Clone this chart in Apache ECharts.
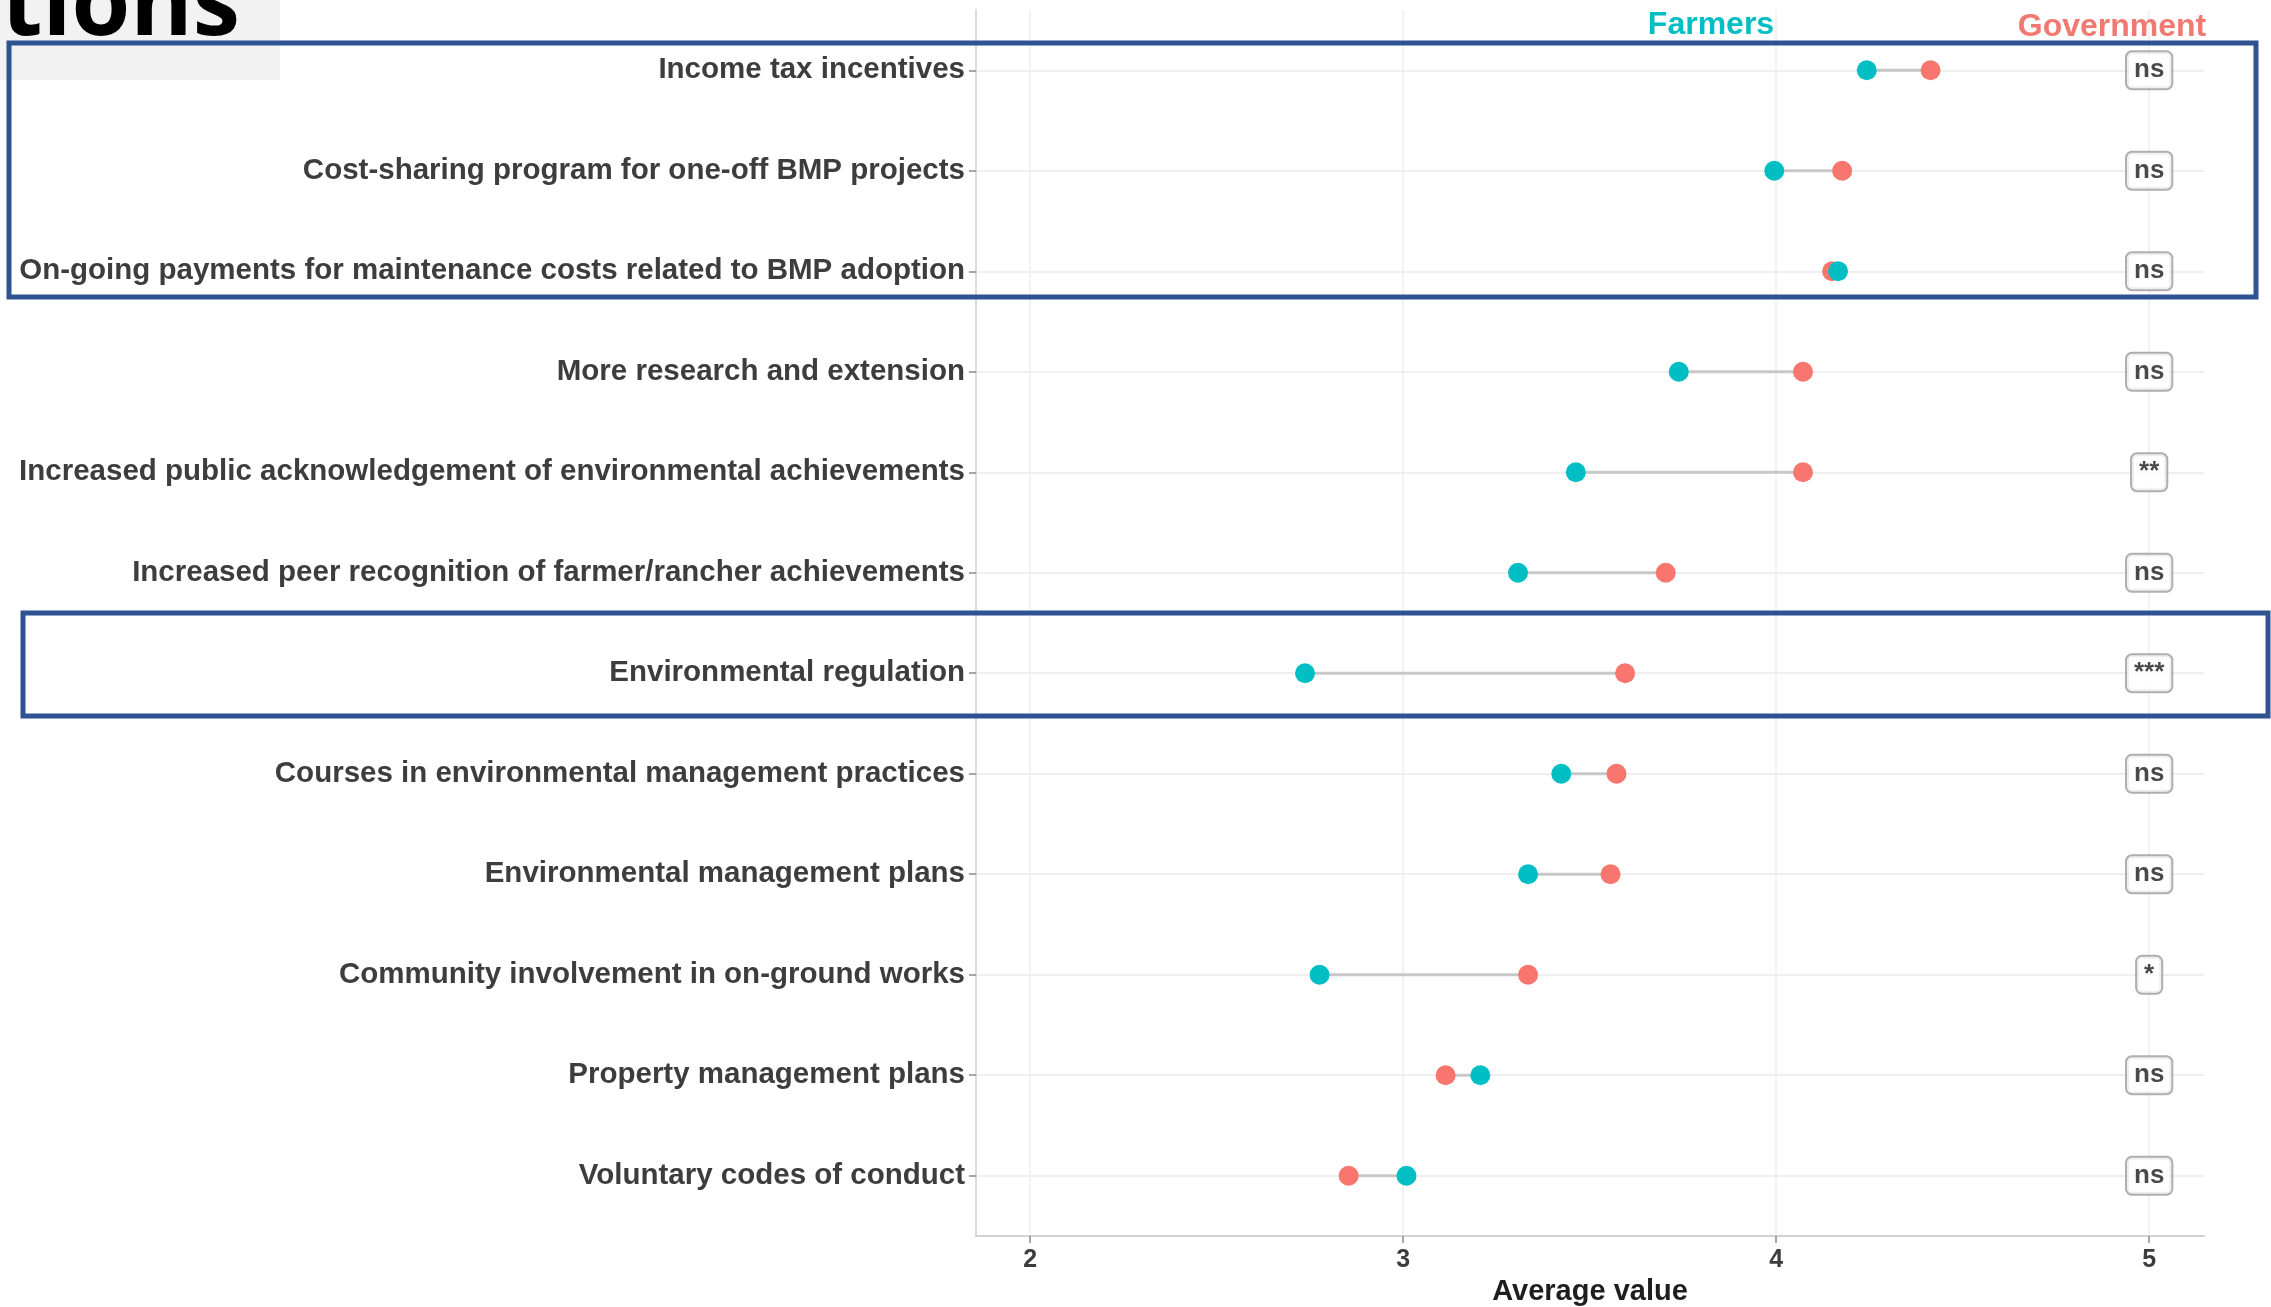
<!DOCTYPE html>
<html>
<head>
<meta charset="utf-8">
<script src="https://cdn.jsdelivr.net/npm/echarts@6/dist/echarts.min.js"></script>
<style>
html,body{margin:0;padding:0;background:#fff;}
#chart{width:2271px;height:1307px;}
</style>
</head>
<body>
<div id="chart"></div>
<script>
const categories = [
  'Income tax incentives',
  'Cost-sharing program for one-off BMP projects',
  'On-going payments for maintenance costs related to BMP adoption',
  'More research and extension',
  'Increased public acknowledgement of environmental achievements',
  'Increased peer recognition of farmer/rancher achievements',
  'Environmental regulation',
  'Courses in environmental management practices',
  'Environmental management plans',
  'Community involvement in on-ground works',
  'Property management plans',
  'Voluntary codes of conduct'
];
const farmers    = [4.243, 3.995, 4.166, 3.739, 3.463, 3.308, 2.737, 3.424, 3.335, 2.776, 3.207, 3.009];
const government = [4.414, 4.177, 4.150, 4.072, 4.072, 3.704, 3.595, 3.572, 3.556, 3.335, 3.114, 2.854];
const significance = ['ns', 'ns', 'ns', 'ns', '**', 'ns', '***', 'ns', 'ns', '*', 'ns', 'ns'];
const sigPosition = 5;
const xTicks = [2, 3, 4, 5];
const rowIndex = categories.map((c, i) => i + 1);

const chart = echarts.init(document.getElementById('chart'));
const FONT = 'Liberation Sans';
const TEXT = '#3d3d3d';

const option = {
  animation: false,
  backgroundColor: '#ffffff',
  grid: { left: 976, right: 67, top: 10, bottom: 71, containLabel: false, outerBoundsMode: 'none' },
  xAxis: {
    type: 'value',
    min: 1.855,
    max: 5.147,
    name: 'Average value',
    nameLocation: 'middle',
    nameGap: 38,
    nameTextStyle: { fontFamily: FONT, fontWeight: 'bold', fontSize: 29, color: '#1e1e1e' },
    axisLine: { show: true, lineStyle: { color: '#d2d2d2', width: 2 } },
    axisTick: { show: true, customValues: xTicks, length: 7, lineStyle: { color: '#8a8a8a', width: 1.5 } },
    axisLabel: { customValues: xTicks, fontFamily: FONT, fontWeight: 'bold', fontSize: 25, color: TEXT, margin: 12 },
    splitLine: { show: true, lineStyle: { color: '#eeeeee', width: 1.5 } }
  },
  yAxis: {
    type: 'value',
    inverse: true,
    min: 0.4,
    max: 12.6,
    axisLine: { show: true, lineStyle: { color: '#dcdcdc', width: 2 } },
    axisTick: { show: true, customValues: rowIndex, length: 7, lineStyle: { color: '#8a8a8a', width: 1.5 } },
    axisLabel: {
      customValues: rowIndex,
      formatter: v => categories[Math.round(v) - 1] || '',
      fontFamily: FONT, fontWeight: 'bold', fontSize: 29.5, color: TEXT, margin: 11
    },
    splitLine: { show: true, lineStyle: { color: '#efefef', width: 2 } }
  },
  series: [
    {
      type: 'custom',
      silent: true,
      encode: { x: [0, 1], y: 2 },
      data: categories.map((c, i) => [farmers[i], government[i], i + 1]),
      renderItem: function (params, api) {
        const p1 = api.coord([api.value(0), api.value(2)]);
        const p2 = api.coord([api.value(1), api.value(2)]);
        return {
          type: 'line',
          shape: { x1: p1[0], y1: p1[1], x2: p2[0], y2: p2[1] },
          style: { stroke: '#c8c8c8', lineWidth: 3 }
        };
      },
      z: 2
    },
    {
      name: 'Government',
      type: 'scatter',
      silent: true,
      symbolSize: 20,
      itemStyle: { color: '#F8766D', opacity: 1 },
      data: government.map((v, i) => [v, i + 1]),
      z: 3
    },
    {
      name: 'Farmers',
      type: 'scatter',
      silent: true,
      symbolSize: 20,
      itemStyle: { color: '#00BFC4', opacity: 1 },
      data: farmers.map((v, i) => [v, i + 1]),
      z: 4
    },
    {
      name: 'Significance',
      type: 'scatter',
      silent: true,
      symbolSize: 1,
      itemStyle: { color: 'rgba(255,255,255,0)' },
      data: significance.map((s, i) => [sigPosition, i + 1, s]),
      label: {
        show: true,
        position: 'inside',
        formatter: p => p.data[2],
        fontFamily: FONT,
        fontWeight: 'bold',
        fontSize: 26,
        lineHeight: 26,
        color: '#1c1c1c',
        backgroundColor: '#ffffff',
        borderColor: '#9a9a9a',
        borderWidth: 2,
        borderRadius: 5,
        padding: [6, 7, 4, 7]
      },
      z: 5
    }
  ],
  graphic: [
    { type: 'rect', shape: { x: 0, y: 0, width: 280, height: 80 }, style: { fill: '#f2f2f2' }, z: 50, silent: true },
    { type: 'text', x: 240, y: 8, z: 51, silent: true,
      style: { text: 'tions', fill: '#000000', font: 'bold 95px "Open Sans"', align: 'right', verticalAlign: 'middle' } },
    { type: 'text', x: 1711, y: 25, z: 51, silent: true,
      style: { text: 'Farmers', fill: '#00BFC4', font: 'bold 32px "Liberation Sans"', align: 'center', verticalAlign: 'middle' } },
    { type: 'text', x: 2112, y: 27, z: 51, silent: true,
      style: { text: 'Government', fill: '#F07A72', font: 'bold 32px "Liberation Sans"', align: 'center', verticalAlign: 'middle' } },
    { type: 'rect', shape: { x: 9, y: 43, width: 2247, height: 254 }, z: 60, silent: true,
      style: { fill: 'none', stroke: '#2f5391', lineWidth: 5 } },
    { type: 'rect', shape: { x: 23, y: 613, width: 2245, height: 103 }, z: 60, silent: true,
      style: { fill: 'none', stroke: '#2f5391', lineWidth: 5 } }
  ]
};
chart.setOption(option);
</script>
</body>
</html>
